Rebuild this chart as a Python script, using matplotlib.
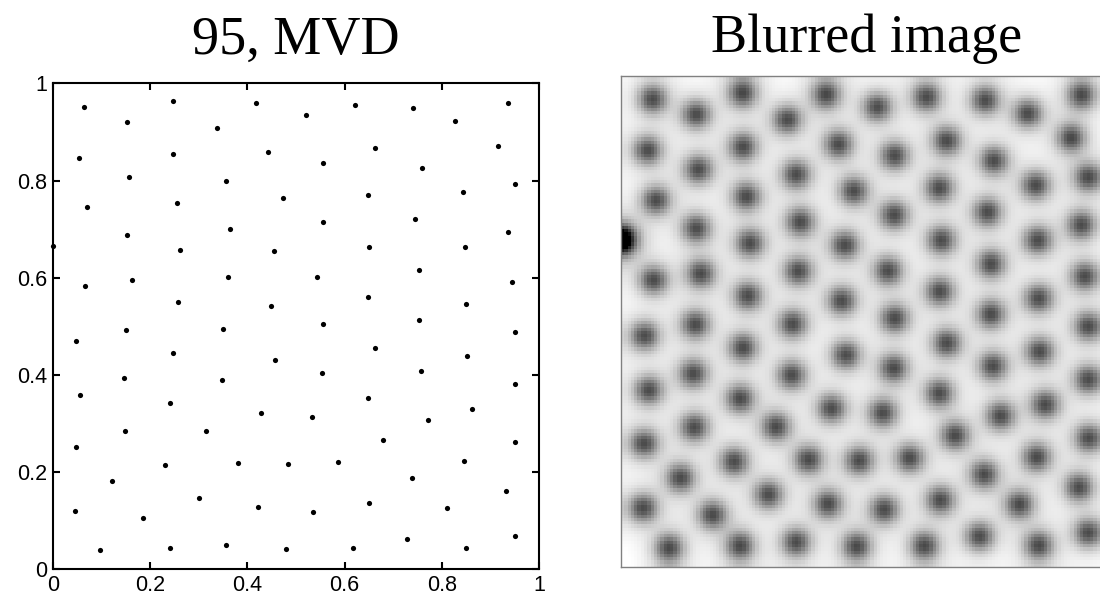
import numpy as np
import matplotlib
matplotlib.use("Agg")
import matplotlib.pyplot as plt

# 95 points
x = [0.064, 0.153, 0.247, 0.338, 0.417, 0.054, 0.248, 0.442, 0.157, 0.356,
     0.071, 0.255, 0.473, 0.153, 0.364, 0.000, 0.262, 0.455, 0.066, 0.162,
     0.360, 0.258, 0.449, 0.521, 0.621, 0.740, 0.827, 0.936, 0.662, 0.915,
     0.556, 0.758, 0.950, 0.647, 0.843, 0.555, 0.745, 0.936, 0.651, 0.847,
     0.543, 0.752, 0.943, 0.648, 0.849, 0.556, 0.752, 0.048, 0.151, 0.349,
     0.248, 0.457, 0.147, 0.347, 0.056, 0.242, 0.428, 0.149, 0.315, 0.047,
     0.230, 0.381, 0.484, 0.121, 0.300, 0.421, 0.045, 0.186, 0.098, 0.242,
     0.356, 0.479, 0.950, 0.662, 0.851, 0.554, 0.756, 0.950, 0.647, 0.862,
     0.532, 0.771, 0.679, 0.951, 0.587, 0.845, 0.738, 0.931, 0.535, 0.649,
     0.810, 0.617, 0.729, 0.849, 0.950]
y = [0.951, 0.920, 0.963, 0.909, 0.960, 0.847, 0.854, 0.859, 0.808, 0.798,
     0.745, 0.753, 0.764, 0.688, 0.701, 0.665, 0.658, 0.654, 0.583, 0.596,
     0.601, 0.551, 0.541, 0.935, 0.955, 0.949, 0.922, 0.959, 0.866, 0.872,
     0.836, 0.826, 0.792, 0.770, 0.776, 0.715, 0.721, 0.695, 0.664, 0.664,
     0.602, 0.616, 0.591, 0.560, 0.546, 0.505, 0.514, 0.470, 0.493, 0.494,
     0.446, 0.431, 0.393, 0.390, 0.359, 0.342, 0.322, 0.284, 0.285, 0.251,
     0.214, 0.218, 0.216, 0.181, 0.147, 0.128, 0.120, 0.106, 0.039, 0.043,
     0.050, 0.042, 0.489, 0.455, 0.438, 0.404, 0.408, 0.381, 0.353, 0.330,
     0.313, 0.307, 0.267, 0.262, 0.221, 0.223, 0.188, 0.162, 0.117, 0.136,
     0.127, 0.043, 0.062, 0.044, 0.069]
ticks = [0, 0.2, 0.4, 0.6, 0.8, 1]
tick_labels = ["0", "0.2", "0.4", "0.6", "0.8", "1"]

px = np.array(x)
py = np.array(y)

# blurred image: gaussian sum on a coarse grid, mirrored at the borders
N = 150
g = (np.arange(N) + 0.5) / N
gx, gy = np.meshgrid(g, g)
allx = np.concatenate([px, -px, 2 - px, px, px])
ally = np.concatenate([py, py, py, -py, 2 - py])
img = np.zeros_like(gx)
for cx, cy in zip(allx, ally):
    d2 = (gx - cx) ** 2 + (gy - cy) ** 2
    img += np.exp(-d2 / (2 * 0.02 ** 2)) + 0.25 * np.exp(-d2 / (2 * 0.04 ** 2))

fig = plt.figure(figsize=(11, 6.01), dpi=100)

ax1 = fig.add_axes([0.0479, 0.0527, 0.4424, 0.8087])
ax1.scatter(px, py, s=14, c="k", linewidths=0, clip_on=False, zorder=3)
ax1.set_xlim(0, 1)
ax1.set_ylim(0, 1)
ax1.set_xticks(ticks)
ax1.set_yticks(ticks)
ax1.set_xticklabels(tick_labels)
ax1.set_yticklabels(tick_labels)
ax1.tick_params(direction="in", length=5, width=1.5, top=True, right=True,
                labelsize=15.5, pad=4)
for lab in ax1.get_xticklabels() + ax1.get_yticklabels():
    lab.set_fontfamily("Liberation Sans")
for s in ax1.spines.values():
    s.set_linewidth(1.5)
ax1.set_title("95, MVD", fontsize=39, family="Liberation Serif", pad=21)

ax2 = fig.add_axes([0.5643, 0.0566, 0.4464, 0.817])
ax2.imshow(img, cmap="gray_r", vmin=0.05, vmax=1.8, origin="lower",
           extent=[0, 1, 0, 1], interpolation="nearest")
ax2.set_xticks([])
ax2.set_yticks([])
for s in ax2.spines.values():
    s.set_color("#808080")
    s.set_linewidth(1)
ax2.set_title("Blurred image", fontsize=39, family="Liberation Serif", pad=17)

fig.savefig("out.png", dpi=100)
